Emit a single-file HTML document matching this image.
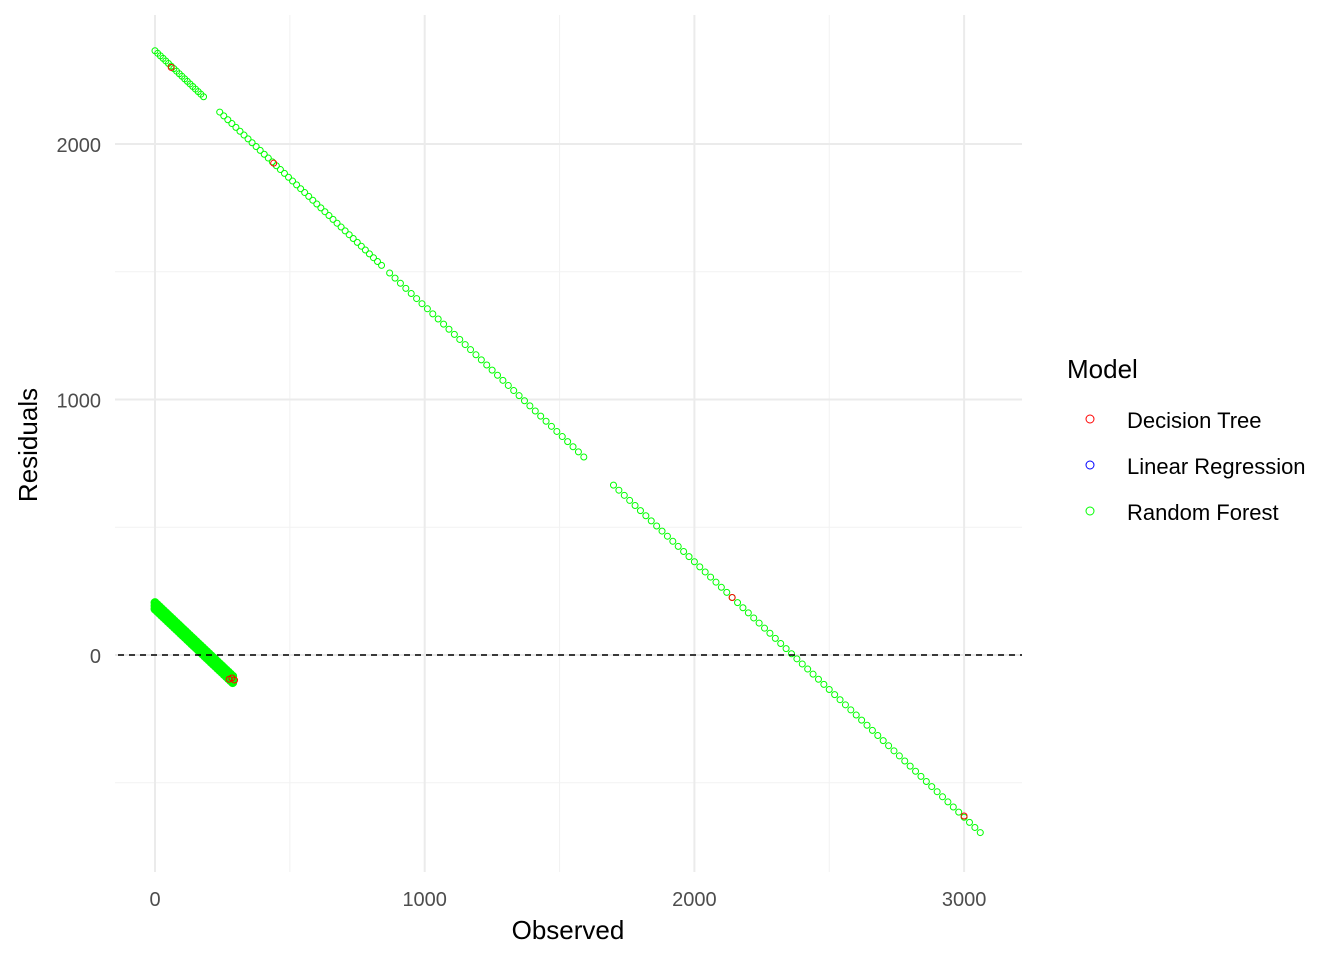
<!DOCTYPE html>
<html><head><meta charset="utf-8"><style>
body{margin:0;background:#fff;}
svg text{font-family:"Liberation Sans",Arial,sans-serif;}
</style></head><body>
<svg id="chart" width="1344" height="960">
<g id="grid"></g>
<g id="pts"></g>
<g id="axes"></g>
<text x="568" y="939" font-size="26" text-anchor="middle" fill="#000">Observed</text>
<text transform="translate(37,445) rotate(-90)" font-size="26" text-anchor="middle" fill="#000">Residuals</text>
<g>
<text x="1067" y="378" font-size="26" fill="#000">Model</text>
<g><circle cx="1090" cy="419" r="4" fill="none" stroke="#ff0000" stroke-width="1"/><text x="1127" y="428" font-size="22" fill="#000">Decision Tree</text></g>
<g><circle cx="1090" cy="465" r="4" fill="none" stroke="#0000ff" stroke-width="1"/><text x="1127" y="474" font-size="22" fill="#000">Linear Regression</text></g>
<g><circle cx="1090" cy="511" r="4" fill="none" stroke="#00ff00" stroke-width="1"/><text x="1127" y="520" font-size="22" fill="#000">Random Forest</text></g>
</g>
</svg>
<script>
const xTicks=[0,1000,2000,3000];
const yTicks=[0,1000,2000];
const xMinor=[500,1500,2500];
const yMinor=[-500,500,1500];
const rfObs=[0,10,20,30,40,50,60,70,80,90,100,110,120,130,140,150,160,170,180,
240,255,270,285,300,315,330,345,360,375,390,405,420,435,450,465,480,495,510,525,540,555,570,585,600,615,630,645,660,675,690,705,720,735,750,765,780,795,810,825,840,
870,890,910,930,950,970,990,1010,1030,1050,1070,1090,1110,1130,1150,1170,1190,1210,1230,1250,1270,1290,1310,1330,1350,1370,1390,1410,1430,1450,1470,1490,1510,1530,1550,1570,1590,
1700,1720,1740,1760,1780,1800,1820,1840,1860,1880,1900,1920,1940,1960,1980,2000,2020,2040,2060,2080,2100,2120,2140,2160,2180,2200,2220,2240,2260,2280,2300,2320,2340,2360,2380,2400,2420,2440,2460,2480,2500,2520,2540,2560,2580,2600,2620,2640,2660,2680,2700,2720,2740,2760,2780,2800,2820,2840,2860,2880,2900,2920,2940,2960,2980,3000,3020,3040,3060];
const rfRes=[2365,2355,2345,2335,2325,2315,2305,2295,2285,2275,2265,2255,2245,2235,2225,2215,2205,2195,2185,
2125,2110,2095,2080,2065,2050,2035,2020,2005,1990,1975,1960,1945,1930,1915,1900,1885,1870,1855,1840,1825,1810,1795,1780,1765,1750,1735,1720,1705,1690,1675,1660,1645,1630,1615,1600,1585,1570,1555,1540,1525,
1495,1475,1455,1435,1415,1395,1375,1355,1335,1315,1295,1275,1255,1235,1215,1195,1175,1155,1135,1115,1095,1075,1055,1035,1015,995,975,955,935,915,895,875,855,835,815,795,775,
665,645,625,605,585,565,545,525,505,485,465,445,425,405,385,365,345,325,305,285,265,245,225,205,185,165,145,125,105,85,65,45,25,5,-15,-35,-55,-75,-95,-115,-135,-155,-175,-195,-215,-235,-255,-275,-295,-315,-335,-355,-375,-395,-415,-435,-455,-475,-495,-515,-535,-555,-575,-595,-615,-635,-655,-675,-695];
const clObs=[0,8,16,24,32,40,48,56,64,72,80,88,96,104,112,120,128,136,144,152,160,168,176,184,192,200,208,216,224,232,240,248,256,264,272,280,288];
const clResHi=[205,197,189,181,173,165,157,149,141,133,125,117,109,101,93,85,77,69,61,53,45,37,29,21,13,5,-3,-11,-19,-27,-35,-43,-51,-59,-67,-75,-83];
const clResLo=[180,172,164,156,148,140,132,124,116,108,100,92,84,76,68,60,52,44,36,28,20,12,4,-4,-12,-20,-28,-36,-44,-52,-60,-68,-76,-84,-92,-100,-108];
const dtObs=[60,440,2140,3000,285,295,275];
const dtRes=[2300,1925,225,-630,-90,-98,-95];
const NS='http://www.w3.org/2000/svg';
const X=v=>155+v*0.2697, Y=v=>655-v*0.2555;
const L={x0:115,x1:1022,y0:15,y1:872};
function mk(tag,at,parent){const e=document.createElementNS(NS,tag);for(const k in at)e.setAttribute(k,at[k]);document.getElementById(parent).appendChild(e);return e;}
xMinor.forEach(v=>{const e=mk('line',{x1:X(v),x2:X(v),y1:L.y0,y2:L.y1,stroke:'#f2f2f2','stroke-width':1},'grid');

});
yMinor.forEach(v=>{const e=mk('line',{x1:L.x0,x2:L.x1,y1:Y(v),y2:Y(v),stroke:'#f2f2f2','stroke-width':1},'grid');

});
xTicks.forEach(v=>{const e=mk('line',{x1:X(v),x2:X(v),y1:L.y0,y2:L.y1,stroke:'#ebebeb','stroke-width':2},'grid');


const t=mk('text',{x:X(v),y:906,'font-size':20,'text-anchor':'middle',fill:'#4d4d4d'},'axes');t.textContent=v;

});
yTicks.forEach(v=>{const e=mk('line',{x1:L.x0,x2:L.x1,y1:Y(v),y2:Y(v),stroke:'#ebebeb','stroke-width':2},'grid');


const t=mk('text',{x:101,y:Y(v)+8,'font-size':20,'text-anchor':'end',fill:'#4d4d4d'},'axes');t.textContent=v;

});
function pt(o,r,c,sw){const e=mk('circle',{cx:X(o),cy:Y(r),r:3,fill:'none',stroke:c,'stroke-width':sw},'pts');

}
rfObs.forEach((o,i)=>pt(o,rfRes[i],'#00ff00',1));
clObs.forEach((o,i)=>{pt(o,clResHi[i],'#00ff00',3);pt(o,clResLo[i],'#00ff00',3);pt(o,(clResHi[i]+clResLo[i])/2,'#00ff00',3);});
dtObs.forEach((o,i)=>pt(o,dtRes[i],'#ff0000',1));
const z=mk('line',{x1:118,x2:1022,y1:Y(0),y2:Y(0),stroke:'#000','stroke-width':1.5,'stroke-dasharray':'6,5'},'axes');


</script>
</body></html>
